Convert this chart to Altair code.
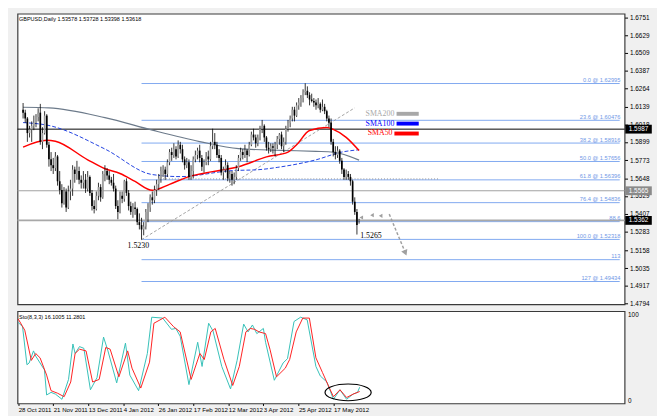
import altair as alt
import pandas as pd

# ---------------- data ----------------
date_idx = [0, 16, 32, 48, 64, 80, 96, 112, 128, 144]
date_labels = ["28 Oct 2011", "21 Nov 2011", "13 Dec 2011", "4 Jan 2012", "26 Jan 2012",
               "17 Feb 2012", "12 Mar 2012", "3 Apr 2012", "25 Apr 2012", "17 May 2012"]

opens = [
1.6120,1.6100,1.6060,1.5960,1.5985,1.6010,1.6030,1.6070,1.6100,1.5900,
1.5960,1.6080,1.5880,1.5780,1.5740,1.5720,1.5800,1.5630,1.5570,1.5480,
1.5560,1.5450,1.5560,1.5580,1.5710,1.5680,1.5700,1.5640,1.5620,1.5640,
1.5580,1.5660,1.5550,1.5460,1.5440,1.5530,1.5590,1.5520,1.5680,1.5700,
1.5670,1.5640,1.5620,1.5580,1.5460,1.5420,1.5530,1.5510,1.5630,1.5550,
1.5460,1.5420,1.5450,1.5440,1.5350,1.5330,1.5300,1.5320,1.5420,1.5450,
1.5520,1.5500,1.5570,1.5610,1.5650,1.5700,1.5710,1.5680,1.5760,1.5830,
1.5810,1.5850,1.5800,1.5880,1.5850,1.5780,1.5740,1.5760,1.5660,1.5700,
1.5780,1.5810,1.5840,1.5790,1.5730,1.5760,1.5800,1.5780,1.5870,1.5900,
1.5880,1.5810,1.5790,1.5690,1.5710,1.5740,1.5650,1.5680,1.5640,1.5660,
1.5720,1.5790,1.5830,1.5810,1.5840,1.5810,1.5880,1.5950,1.5930,1.5890,
1.5930,1.5990,1.6010,1.5930,1.5860,1.5850,1.5870,1.5860,1.5880,1.5920,
1.5950,1.5870,1.5900,1.5990,1.6030,1.6060,1.6120,1.6080,1.6150,1.6170,
1.6200,1.6240,1.6250,1.6220,1.6190,1.6180,1.6170,1.6150,1.6160,1.6120,
1.6140,1.6110,1.6060,1.6030,1.5900,1.5830,1.5810,1.5840,1.5770,1.5710,
1.5660,1.5680,1.5660,1.5630,1.5490,1.5420,1.53578]
highs = [
1.6166,1.6120,1.6070,1.6010,1.6040,1.6080,1.6090,1.6130,1.6160,1.6000,
1.6110,1.6090,1.5900,1.5830,1.5790,1.5830,1.5810,1.5700,1.5610,1.5590,
1.5580,1.5600,1.5640,1.5740,1.5730,1.5770,1.5730,1.5670,1.5700,1.5680,
1.5700,1.5670,1.5570,1.5500,1.5560,1.5620,1.5610,1.5700,1.5740,1.5720,
1.5700,1.5660,1.5680,1.5600,1.5500,1.5560,1.5560,1.5640,1.5650,1.5570,
1.5490,1.5480,1.5490,1.5450,1.5410,1.5380,1.5350,1.5440,1.5480,1.5540,
1.5560,1.5600,1.5640,1.5680,1.5730,1.5740,1.5730,1.5780,1.5850,1.5860,
1.5890,1.5870,1.5910,1.5900,1.5880,1.5800,1.5790,1.5780,1.5740,1.5800,
1.5840,1.5860,1.5880,1.5810,1.5780,1.5830,1.5840,1.5900,1.5990,1.5960,
1.5900,1.5850,1.5810,1.5730,1.5780,1.5760,1.5700,1.5700,1.5690,1.5740,
1.5810,1.5860,1.5850,1.5880,1.5850,1.5900,1.5970,1.5990,1.5950,1.5950,
1.6010,1.6050,1.6020,1.5940,1.5900,1.5890,1.5890,1.5900,1.5940,1.5960,
1.5970,1.5930,1.6010,1.6050,1.6080,1.6140,1.6140,1.6170,1.6200,1.6220,
1.6260,1.6301,1.6280,1.6240,1.6230,1.6200,1.6190,1.6200,1.6170,1.6190,
1.6160,1.6120,1.6080,1.6060,1.5920,1.5870,1.5870,1.5850,1.5790,1.5720,
1.5710,1.5700,1.5680,1.5640,1.5520,1.5440,1.53728]
lows = [
1.6060,1.6030,1.5900,1.5930,1.5900,1.5980,1.6000,1.6040,1.5880,1.5850,
1.5950,1.5860,1.5730,1.5700,1.5680,1.5700,1.5600,1.5540,1.5450,1.5470,
1.5420,1.5440,1.5500,1.5530,1.5620,1.5640,1.5610,1.5580,1.5580,1.5550,
1.5560,1.5530,1.5430,1.5410,1.5430,1.5500,1.5490,1.5510,1.5630,1.5640,
1.5610,1.5600,1.5560,1.5440,1.5370,1.5410,1.5480,1.5490,1.5530,1.5430,
1.5400,1.5380,1.5400,1.5330,1.5300,1.5230,1.5260,1.5300,1.5350,1.5420,
1.5470,1.5480,1.5530,1.5570,1.5620,1.5660,1.5640,1.5660,1.5740,1.5770,
1.5790,1.5780,1.5790,1.5820,1.5760,1.5710,1.5720,1.5640,1.5640,1.5650,
1.5760,1.5780,1.5760,1.5700,1.5690,1.5740,1.5740,1.5770,1.5850,1.5850,
1.5790,1.5760,1.5670,1.5640,1.5690,1.5630,1.5620,1.5600,1.5610,1.5640,
1.5700,1.5770,1.5780,1.5790,1.5760,1.5800,1.5870,1.5910,1.5860,1.5870,
1.5910,1.5960,1.5900,1.5840,1.5820,1.5830,1.5820,1.5800,1.5850,1.5880,
1.5850,1.5830,1.5880,1.5970,1.6000,1.6040,1.6040,1.6070,1.6120,1.6140,
1.6170,1.6220,1.6200,1.6150,1.6170,1.6140,1.6120,1.6130,1.6100,1.6110,
1.6090,1.6040,1.6000,1.5880,1.5800,1.5780,1.5790,1.5750,1.5680,1.5640,
1.5640,1.5640,1.5600,1.5470,1.5400,1.5265,1.53398]
closes = [
1.6100,1.6060,1.5960,1.5985,1.6010,1.6030,1.6070,1.6100,1.5900,1.5960,
1.6080,1.5880,1.5780,1.5740,1.5720,1.5800,1.5630,1.5570,1.5480,1.5560,
1.5450,1.5560,1.5580,1.5710,1.5680,1.5700,1.5640,1.5620,1.5640,1.5580,
1.5660,1.5550,1.5460,1.5440,1.5530,1.5590,1.5520,1.5680,1.5700,1.5670,
1.5640,1.5620,1.5580,1.5460,1.5420,1.5530,1.5510,1.5630,1.5550,1.5460,
1.5420,1.5450,1.5440,1.5350,1.5330,1.5300,1.5320,1.5420,1.5450,1.5520,
1.5500,1.5570,1.5610,1.5650,1.5700,1.5710,1.5680,1.5760,1.5830,1.5810,
1.5850,1.5800,1.5880,1.5850,1.5780,1.5740,1.5760,1.5660,1.5700,1.5780,
1.5810,1.5840,1.5790,1.5730,1.5760,1.5800,1.5780,1.5870,1.5900,1.5880,
1.5810,1.5790,1.5690,1.5710,1.5740,1.5650,1.5680,1.5640,1.5660,1.5720,
1.5790,1.5830,1.5810,1.5840,1.5810,1.5880,1.5950,1.5930,1.5890,1.5930,
1.5990,1.6010,1.5930,1.5860,1.5850,1.5870,1.5860,1.5880,1.5920,1.5950,
1.5870,1.5900,1.5990,1.6030,1.6060,1.6120,1.6080,1.6150,1.6170,1.6200,
1.6240,1.6250,1.6220,1.6190,1.6180,1.6170,1.6150,1.6160,1.6120,1.6140,
1.6110,1.6060,1.6030,1.5900,1.5830,1.5810,1.5840,1.5770,1.5710,1.5660,
1.5680,1.5660,1.5630,1.5490,1.5420,1.5330,1.53618]

# moving averages (bar index, price)
sma200_i = [0, 12, 38, 60, 82, 100, 120, 136, 144, 156]
sma200_p = [1.6137, 1.6133, 1.6066, 1.5980, 1.5902, 1.5853, 1.5842, 1.5835, 1.5830, 1.5775]
sma100_i = [0, 12, 38, 60, 73, 97, 109, 118, 136, 148, 156]
sma100_p = [1.6032, 1.6012, 1.5851, 1.5676, 1.5662, 1.5703, 1.5709, 1.5725, 1.5777, 1.5830, 1.5846]
sma50_i = [0, 11, 15, 30, 38, 45, 52, 60, 68, 77, 88, 100, 113, 123, 127, 133, 141, 144, 150, 156]
sma50_p = [1.5864, 1.5911, 1.5904, 1.5777, 1.5716, 1.5683, 1.5629, 1.5568, 1.5609, 1.5662,
           1.5696, 1.5730, 1.5797, 1.5830, 1.5880, 1.5978, 1.5998, 1.5985, 1.5931, 1.5840]

# fibonacci retracement 1.52318 -> 1.62995
fib_labels = ["0.0 @ 1.62995", "23.6 @ 1.60476", "38.2 @ 1.58916", "50.0 @ 1.57656",
              "61.8 @ 1.56396", "76.4 @ 1.54836", "88.6", "100.0 @ 1.52318", "113", "127 @ 1.49434"]
fib_prices = [1.62995, 1.60476, 1.58916, 1.57656, 1.56396, 1.54836, 1.53535, 1.52318, 1.50930, 1.49434]
fib_start, x_end = 55, 277

price_ticks = [1.6751, 1.6629, 1.6509, 1.6387, 1.6264, 1.6139, 1.6018, 1.5899, 1.5773,
               1.5648, 1.5529, 1.5407, 1.5283, 1.5158, 1.5035, 1.4917, 1.4794]

hline_prices = [1.5987, 1.5565, 1.5362]
hline_colors = ["#000000", "#a0a0a0", "#a8a8a8"]
hline_widths = [1, 1, 1.6]
box_labels = ["1.5987", "1.5565", "1.5362"]
box_colors = ["#000000", "#8a8a8a", "#000000"]

# stochastic (bar index, value)
sto_main_i = [0, 2, 4, 5, 7, 8, 12, 13, 15, 17, 20, 23, 25, 26, 28, 30, 33, 36, 39, 41, 45, 49, 51, 55,
              59, 61, 66, 70, 72, 74, 78, 82, 84, 87, 89, 93, 97, 100, 103, 105, 107, 109, 112, 113,
              117, 121, 123, 126, 129, 132, 136, 138, 141, 144, 147, 150, 153, 155, 156]
sto_main_v = [91, 86, 42, 44, 58, 52, 36, 7, 10, 8, 2, 25, 66, 55, 63, 61, 13, 27, 74, 58, 21, 67, 30, 12,
              55, 97, 96, 83, 84, 75, 19, 68, 40, 90, 81, 40, 14, 47, 89, 80, 88, 78, 84, 68,
              24, 44, 49, 92, 97, 94, 40, 29, 22, 2, 13, 2, 8, 10, 16]
sto_sig_i = [0, 3, 6, 8, 10, 13, 15, 18, 21, 24, 26, 28, 31, 34, 37, 40, 42, 46, 50, 52, 56, 60, 62, 67,
             71, 74, 79, 83, 85, 88, 90, 94, 98, 101, 104, 106, 108, 110, 113, 115, 118, 122, 124, 127,
             130, 133, 136, 139, 142, 144, 147, 150, 153, 156]
sto_sig_v = [95, 82, 47, 55, 50, 30, 12, 9, 5, 22, 55, 60, 58, 22, 25, 62, 60, 28, 58, 38, 15, 45, 90, 97,
             86, 80, 25, 55, 48, 80, 84, 48, 18, 40, 80, 84, 83, 80, 78, 60, 28, 38, 48, 80,
             96, 96, 50, 33, 16, 5, 13, 4, 8, 11]

# ---------------- frames ----------------
df = pd.DataFrame({"i": list(range(len(closes))), "o": opens, "h": highs, "l": lows, "c": closes})
W, HP, HS = 618.3, 296, 94
xs = alt.Scale(domain=[-0.3, x_end], nice=False, zero=False)
ys = alt.Scale(domain=[1.47873, 1.67779], nice=False, zero=False)
yax = alt.Axis(values=price_ticks, format=".4f", orient="right", title=None, grid=False,
               tickSize=3, tickColor="#000", labelFontSize=6.5, labelPadding=2, domain=False,
               labelFont="Liberation Sans", labelColor="#000")
X = lambda f: alt.X(f, scale=xs, axis=None)
Y = lambda f: alt.Y(f, scale=ys, axis=yax)

wicks = alt.Chart(df).mark_rule(color="black", strokeWidth=0.8).encode(x=X("i:Q"), y=Y("l:Q"), y2="h:Q")
bodies = alt.Chart(df).mark_bar(size=1.7).encode(
    x=X("i:Q"), y=Y("o:Q"), y2="c:Q",
    color=alt.condition("datum.c >= datum.o", alt.value("#a0a0a0"), alt.value("#000000")))

fib_df = pd.DataFrame({"p": fib_prices, "lab": fib_labels, "x0": fib_start, "x1": x_end})
fib_lines = alt.Chart(fib_df).mark_rule(color="#80a8f0", strokeWidth=1).encode(
    x=X("x0:Q"), x2="x1:Q", y=Y("p:Q"))
fib_text = alt.Chart(fib_df).mark_text(align="right", baseline="bottom", fontSize=5.8, dy=-0.5,
                                       color="#6f97e6", font="Liberation Sans").encode(
    x=alt.value(614), y=Y("p:Q"), text="lab:N")

hl_df = pd.DataFrame({"p": hline_prices, "col": hline_colors, "w": hline_widths,
                      "lab": box_labels, "bc": box_colors})
hlines = alt.Chart(hl_df).mark_rule().encode(
    y=Y("p:Q"), color=alt.Color("col:N", scale=None), strokeWidth=alt.StrokeWidth("w:Q", scale=None))
boxes = alt.Chart(hl_df).mark_rule(strokeWidth=9, strokeCap="butt").encode(
    x=alt.value(619), x2=alt.value(646), y=Y("p:Q"), color=alt.Color("bc:N", scale=None))
box_text = alt.Chart(hl_df).mark_text(color="white", fontSize=6.5, font="Liberation Sans").encode(
    x=alt.value(632.5), y=Y("p:Q"), text="lab:N")

dot_df = pd.DataFrame({"x0": [65], "x1": [193], "p": [1.5646]})
dotted = alt.Chart(dot_df).mark_rule(color="#909090", strokeDash=[1, 2], strokeWidth=1).encode(
    x=X("x0:Q"), x2="x1:Q", y=Y("p:Q"))

tr_df = pd.DataFrame({"x0": [55], "p0": [1.5230], "x1": [154], "p1": [1.6133]})
trend = alt.Chart(tr_df).mark_rule(color="#999999", strokeDash=[3, 2], strokeWidth=0.9).encode(
    x=X("x0:Q"), y=Y("p0:Q"), x2="x1:Q", y2="p1:Q")

def sma(ii, pp, color, dash=None, w=1.0):
    kw = dict(color=color, strokeWidth=w, interpolate="monotone")
    if dash:
        kw["strokeDash"] = dash
    return alt.Chart(pd.DataFrame({"i": ii, "p": pp})).mark_line(**kw).encode(x=X("i:Q"), y=Y("p:Q"))

s200 = sma(sma200_i, sma200_p, "#6c7a8a", w=1.2)
s100 = sma(sma100_i, sma100_p, "#2040e0", dash=[4, 2], w=1.0)
s50 = sma(sma50_i, sma50_p, "#ff0000", w=1.5)

leg_df = pd.DataFrame({"name": ["SMA200", "SMA100", "SMA50"], "col": ["#a8a8a8", "#0000ff", "#ff0000"],
                       "p": [1.6092, 1.6025, 1.5957], "xt": [159, 159, 160], "x0": [173.4, 173.4, 172.4],
                       "x1": [183.7, 183.7, 183.7]})
leg_text = alt.Chart(leg_df).mark_text(align="left", baseline="middle", fontSize=8,
                                       font="Liberation Serif").encode(
    x=X("xt:Q"), y=Y("p:Q"), text="name:N", color=alt.Color("col:N", scale=None))
leg_bar = alt.Chart(leg_df).mark_rule(strokeWidth=4).encode(
    x=X("x0:Q"), x2="x1:Q", y=Y("p:Q"), color=alt.Color("col:N", scale=None))

lbl_df = pd.DataFrame({"i": [53.5, 156.5], "p": [1.5230, 1.5265], "t": ["1.5230", "1.5265"],
                       "al": ["center", "left"]})
low_lbl1 = alt.Chart(lbl_df.iloc[[0]]).mark_text(align="center", baseline="top", dy=2, fontSize=8,
                                                  font="Liberation Serif", color="#000").encode(
    x=X("i:Q"), y=Y("p:Q"), text="t:N")
low_lbl2 = alt.Chart(lbl_df.iloc[[1]]).mark_text(align="left", baseline="middle", dy=2, fontSize=8,
                                                  font="Liberation Serif", color="#000").encode(
    x=X("i:Q"), y=Y("p:Q"), text="t:N")

chev_df = pd.DataFrame({"i": [157, 162, 166], "p": [1.5382, 1.5398, 1.5393]})
chevrons = alt.Chart(chev_df).mark_point(shape="triangle-left", size=18, filled=True,
                                         color="#a0a0a0", opacity=1).encode(x=X("i:Q"), y=Y("p:Q"))
arr_df = pd.DataFrame({"x0": [170], "p0": [1.5405], "x1": [177.5], "p1": [1.5140]})
arrow_line = alt.Chart(arr_df).mark_rule(color="#a0a0a0", strokeDash=[3, 2], strokeWidth=1.5).encode(
    x=X("x0:Q"), y=Y("p0:Q"), x2="x1:Q", y2="p1:Q")
arrow_head = alt.Chart(arr_df).mark_point(shape="triangle-down", size=45, filled=True, angle=337,
                                          color="#a0a0a0", opacity=1).encode(x=X("x1:Q"), y=Y("p1:Q"))

title_txt = alt.Chart(pd.DataFrame({"t": ["GBPUSD,Daily  1.53578 1.53728 1.53398 1.53618"]})).mark_text(
    align="left", baseline="middle", fontSize=5.6, font="Liberation Sans", color="#000").encode(
    x=alt.value(1.5), y=alt.value(5), text="t:N")

price = alt.layer(
    fib_lines, hlines, dotted, trend, s200, s100, s50, wicks, bodies, fib_text, boxes, box_text,
    leg_text, leg_bar, low_lbl1, low_lbl2, chevrons, arrow_line, arrow_head, title_txt
).properties(width=W, height=HP)

# ---------------- stochastic ----------------
ss = alt.Scale(domain=[-2.84, 103.98], nice=False, zero=False)
sax = alt.Axis(values=[0, 100], format="d", orient="right", title=None, grid=False, tickSize=0,
               labelFontSize=6.5, labelPadding=3, domain=False, labelFont="Liberation Sans",
               labelColor="#000")
label_expr = "".join(f"datum.value == {i} ? '{lab}' : " for i, lab in zip(date_idx, date_labels)) + "''"
xax = alt.Axis(values=date_idx, labelExpr=label_expr, orient="bottom", title=None, grid=False,
               labelAlign="left", labelFontSize=6.2, labelFont="Liberation Sans", tickSize=2,
               tickColor="#000", labelPadding=1, domain=False, labelColor="#000")

sm = alt.Chart(pd.DataFrame({"i": sto_main_i, "v": sto_main_v})).mark_line(
    color="#35c0b8", strokeWidth=1).encode(
    x=alt.X("i:Q", scale=xs, axis=xax), y=alt.Y("v:Q", scale=ss, axis=sax))
sg = alt.Chart(pd.DataFrame({"i": sto_sig_i, "v": sto_sig_v})).mark_line(
    color="#ff2020", strokeWidth=1).encode(
    x=alt.X("i:Q", scale=xs, axis=xax), y=alt.Y("v:Q", scale=ss, axis=sax))
ell_path = ("M -1 0 C -1 -0.2 -0.5523 -0.362 0 -0.362 C 0.5523 -0.362 1 -0.2 1 0 "
            "C 1 0.2 0.5523 0.362 0 0.362 C -0.5523 0.362 -1 0.2 -1 0 Z")
ell = alt.Chart(pd.DataFrame({"i": [150.7], "v": [10]})).mark_point(
    shape=ell_path, size=2209, filled=False, color="#000", strokeWidth=1.2, opacity=1).encode(
    x=alt.X("i:Q", scale=xs, axis=xax), y=alt.Y("v:Q", scale=ss, axis=sax))
sto_title = alt.Chart(pd.DataFrame({"t": ["Sto(8,3,3) 16.1005 11.2801"]})).mark_text(
    align="left", baseline="middle", fontSize=5.6, font="Liberation Sans", color="#000").encode(
    x=alt.value(1.5), y=alt.value(6), text="t:N")

stoch = alt.layer(sm, sg, ell, sto_title).properties(width=W, height=HS)

chart = alt.vconcat(price, stoch, spacing=2).properties(
    padding={"left": 7.7, "top": 1, "right": 0, "bottom": 0},
    background="#f0f0f0"
).configure_view(fill="white", stroke="#3a3a3a", strokeWidth=1.2)

chart.save("out.html", embed_options={"renderer": "svg", "actions": False})
